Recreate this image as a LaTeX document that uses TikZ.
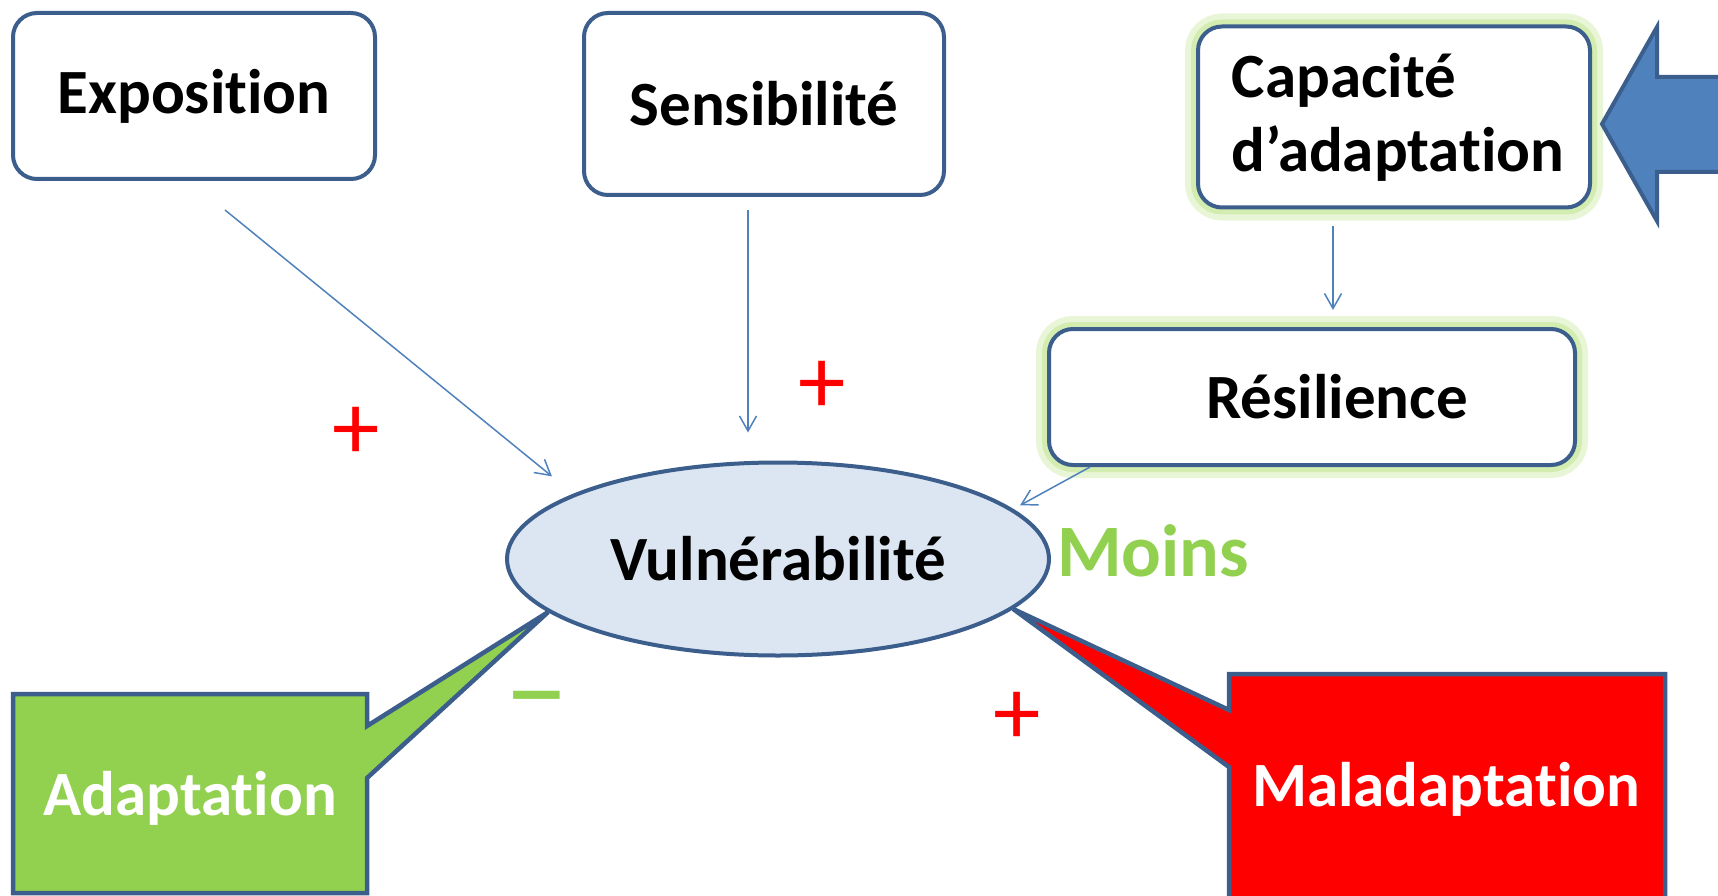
\documentclass[tikz,border=0pt]{standalone}
\usepackage{fontspec}
\setmainfont{Carlito}[Ligatures=NoCommon]
\usetikzlibrary{shapes.geometric,arrows.meta,positioning}
\definecolor{edgeblue}{HTML}{3B5E8C}
\definecolor{arrowblue}{HTML}{4F81BD}
\definecolor{ovalfill}{HTML}{DCE6F2}
\definecolor{leafgreen}{HTML}{92D050}
\definecolor{glowgreen}{HTML}{D3ECB0}
\definecolor{alarmred}{HTML}{FF0000}

\begin{document}
\begin{tikzpicture}[x=1pt,y=1pt,
    box/.style={draw=edgeblue, line width=4, fill=white, rounded corners=24, inner sep=0pt,
        font=\bfseries\fontsize{63}{74}\selectfont},
    glowbox/.style={box, preaction={draw=glowgreen!50, line width=26},
        preaction={draw=glowgreen, line width=14}},
    link/.style={draw=arrowblue, line width=1.5,
        -{Straight Barb[length=15pt,width=17pt,line width=1.5pt]}},
    callout/.style={draw=edgeblue, line width=4.5, line join=miter},
    calltext/.style={text=white, inner sep=0pt, font=\bfseries\fontsize{63}{74}\selectfont},
    sign/.style={inner sep=0pt, font=\fontsize{95}{95}\selectfont}]
    \useasboundingbox (0,0) rectangle (1718,-896);
    \node[box, minimum width=362, minimum height=166] (expo) at (194,-96) {Exposition};
    \node[box, minimum width=360, minimum height=182] (sens) at (764,-104) {Sensibilité};
    \node[glowbox, minimum width=392, minimum height=181, align=left] (capa) at (1394,-117) {\hspace*{8pt}Capacité\\\hspace*{8pt}d’adaptation};
    \node[glowbox, minimum width=526, minimum height=136] (resil) at (1312,-397) {\hspace*{50pt}Résilience};
    \node[ellipse, draw=edgeblue, line width=4, fill=ovalfill, minimum width=542, minimum height=193,
        inner sep=0pt, font=\bfseries\fontsize{63}{74}\selectfont] (vul) at (778,-559) {Vulnérabilité};
    \draw[callout, fill=leafgreen] (13,-694) -- (367,-694) -- (367,-726) -- (vul.193) -- (367,-778)
        -- (367,-893) -- (13,-893) -- cycle;
    \node[calltext] (adapt) at (190,-798) {Adaptation};
    \draw[callout, fill=alarmred] (1229,-674) -- (1665,-674) -- (1665,-910) -- (1229,-910)
        -- (1229,-767) -- (vul.348) -- (1229,-710) -- cycle;
    \node[calltext] (malad) at (1446,-789) {Maladaptation};
    \draw[callout, line width=4, fill=arrowblue] (1602,-124) -- (1657,-27) -- (1657,-77) -- (1730,-77)
        -- (1730,-172) -- (1657,-172) -- (1657,-221) -- cycle;
    \draw[link] ([xshift=31,yshift=-29]expo.south) -- ([xshift=-33,yshift=13]vul.north west);
    \draw[link] ([xshift=-16,yshift=-13]sens.south) -- ([xshift=-30,yshift=28]vul.north);
    \draw[link] ([xshift=-61,yshift=-16]capa.south) -- ([xshift=21,yshift=17]resil.north);
    \draw[link] ([xshift=43]resil.south west) -- ([xshift=49,yshift=-16]vul.north east);
    \node[sign, text=alarmred] (plusa) at (356,-433) {+};
    \node[sign, text=alarmred] (plusb) at (822,-387) {+};
    \node[sign, text=alarmred] (plusc) at (1017,-718) {+};
    \node[sign, text=leafgreen, font=\fontsize{130}{130}\selectfont] (minus) at (537,-711) {–};
    \node[anchor=west, inner sep=0pt, text=leafgreen, font=\bfseries\fontsize{74}{80}\selectfont] (moins)
        at ([xshift=6,yshift=8]vul.east) {Moins};
\end{tikzpicture}
\end{document}
